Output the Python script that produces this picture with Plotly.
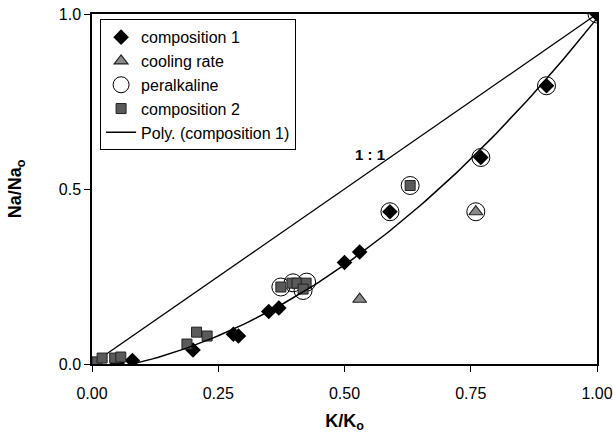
import numpy as np
import plotly.graph_objects as go

# composition 1 (diamonds)
comp1_x = [0.05, 0.08, 0.20, 0.28, 0.29, 0.35, 0.37, 0.50, 0.53, 0.59, 0.77, 0.90, 1.00]
comp1_y = [0.003, 0.01, 0.04, 0.085, 0.08, 0.15, 0.16, 0.29, 0.32, 0.435, 0.59, 0.795, 1.00]

# cooling rate (triangles)
cool_x = [0.53, 0.76]
cool_y = [0.185, 0.435]

# peralkaline (open circles)
peral_x = [0.374, 0.398, 0.425, 0.418, 0.59, 0.63, 0.76, 0.77, 0.90, 1.00]
peral_y = [0.22, 0.232, 0.234, 0.21, 0.435, 0.51, 0.435, 0.59, 0.795, 1.00]

# composition 2 (squares)
comp2_x = [0.01, 0.02, 0.045, 0.057, 0.188, 0.207, 0.228, 0.374, 0.396, 0.406, 0.424, 0.418, 0.63]
comp2_y = [0.006, 0.017, 0.017, 0.02, 0.057, 0.091, 0.08, 0.22, 0.231, 0.231, 0.231, 0.214, 0.51]

# 1:1 reference line
ref_x = [0.0, 1.0]
ref_y = [0.0, 1.0]

# polynomial trendline of composition 1
coef = np.polyfit(comp1_x, comp1_y, 2)
poly_x = np.linspace(0.0, 1.0, 101)
poly_y = np.polyval(coef, poly_x)

FONT = "Liberation Sans, Arial, sans-serif"

fig = go.Figure()
fig.add_trace(go.Scatter(x=ref_x, y=ref_y, mode="lines", line=dict(color="black", width=1.3),
                         showlegend=False, hoverinfo="skip"))
fig.add_trace(go.Scatter(x=comp1_x, y=comp1_y, mode="markers", name="composition 1",
                         marker=dict(symbol="diamond", size=12, color="black",
                                     line=dict(color="black", width=0))))
fig.add_trace(go.Scatter(x=cool_x, y=cool_y, mode="markers", name="cooling rate",
                         marker=dict(symbol="triangle-up", size=12, color="#8a8a8a",
                                     line=dict(color="#222", width=1.2))))
fig.add_trace(go.Scatter(x=peral_x, y=peral_y, mode="markers", name="peralkaline",
                         marker=dict(symbol="circle-open", size=18, color="black",
                                     line=dict(color="black", width=1))))
fig.add_trace(go.Scatter(x=comp2_x, y=comp2_y, mode="markers", name="composition 2",
                         marker=dict(symbol="square", size=10, color="#5a5a5a",
                                     line=dict(color="#222", width=1))))
fig.add_trace(go.Scatter(x=poly_x, y=poly_y, mode="lines", name="Poly. (composition 1)",
                         line=dict(color="black", width=1.5)))

fig.add_annotation(x=0.55, y=0.6, text="<b>1 : 1</b>", showarrow=False,
                   font=dict(family=FONT, size=15, color="black"))

fig.update_layout(
    width=613, height=438,
    margin=dict(l=92, r=16, t=14, b=74, autoexpand=False),
    paper_bgcolor="white", plot_bgcolor="white",
    font=dict(family=FONT, color="black"),
    legend=dict(x=0.016, y=0.985, xanchor="left", yanchor="top",
                bgcolor="white", bordercolor="black", borderwidth=1,
                font=dict(family=FONT, size=16), tracegroupgap=0,
                itemsizing="trace"),
    xaxis=dict(range=[0, 1.0], tickvals=[0, 0.25, 0.5, 0.75, 1.0],
               ticktext=["0.00", "0.25", "0.50", "0.75", "1.00"], automargin=False,
               showgrid=False, zeroline=False, showline=True, linecolor="black", linewidth=1.5,
               mirror=True, ticks="outside", ticklen=6, tickcolor="black",
               ticklabelstandoff=8,
               tickfont=dict(family=FONT, size=16),
               title=dict(text="<b>K/K<sub>o</sub></b>", font=dict(family=FONT, size=18), standoff=13)),
    yaxis=dict(range=[0, 1.0], tickvals=[0, 0.5, 1.0], ticktext=["0.0", "0.5", "1.0"], automargin=False,
               showgrid=False, zeroline=False, showline=True, linecolor="black", linewidth=1.5,
               mirror=True, ticks="outside", ticklen=6, tickcolor="black",
               tickfont=dict(family=FONT, size=16),
               title=dict(text="<b>Na/Na<sub>o</sub></b>", font=dict(family=FONT, size=18), standoff=32)),
)

fig.write_html("out.html")
